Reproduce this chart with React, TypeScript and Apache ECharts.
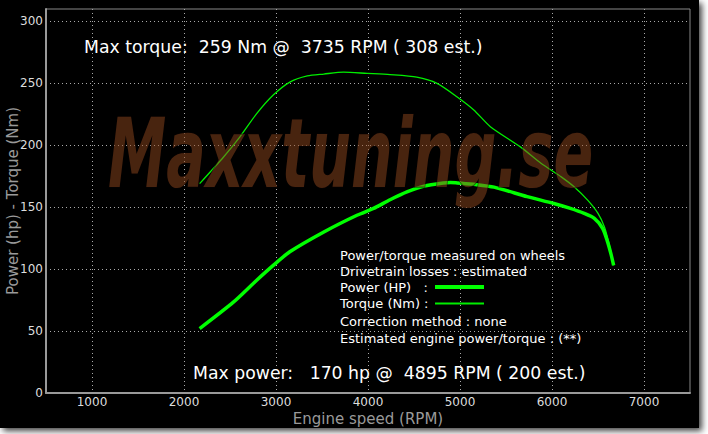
import React, { useEffect, useRef } from "react";
import * as echarts from "echarts";

const xTicks = [1000, 2000, 3000, 4000, 5000, 6000, 7000];
const yTicks = [0, 50, 100, 150, 200, 250, 300];

const powerRpm = [2170, 2540, 2790, 2970, 3150, 3520, 3880, 4060, 4240, 4430, 4610, 4820, 4895, 4970, 5170, 5370, 5730, 6020, 6200, 6350, 6460, 6550, 6600, 6640, 6670];
const powerHp = [52, 73.5, 91, 103, 114, 130, 143.5, 149, 156, 162.5, 167, 169.6, 170, 169.6, 168.3, 166.2, 158.5, 153, 149, 145, 141, 133, 123, 112.5, 103];

const torqueRpm = [2170, 2430, 2610, 2790, 2970, 3150, 3340, 3520, 3735, 3990, 4240, 4530, 4750, 4970, 5150, 5330, 5660, 5880, 6100, 6240, 6390, 6500, 6570, 6620, 6670];
const torqueNm = [169, 190.5, 207, 225.5, 240.5, 251, 256, 257.5, 259, 258, 257, 255, 250, 239, 228.5, 215, 198.5, 185.5, 174.5, 166.5, 155.5, 145, 134, 120.5, 103];

const maxTorqueText = "Max torque:  259 Nm @  3735 RPM ( 308 est.)";
const maxPowerText = "Max power:   170 hp @  4895 RPM ( 200 est.)";
const infoLines = [
  "Power/torque measured on wheels",
  "Drivetrain losses : estimated",
  "Power (HP)   :",
  "Torque (Nm) :",
  "Correction method : none",
  "Estimated engine power/torque : (**)",
];
const watermark = "Maxxtuning.se";

export default function App() {
  const ref = useRef<HTMLDivElement>(null);
  useEffect(() => {
    if (!ref.current) return;
    const chart = echarts.init(ref.current, null, { renderer: "svg" });
    const font = "DejaVu Sans";
    const infoY = [255, 271, 287, 303, 321, 338];
    const graphic: any[] = [
      {
        type: "rect",
        z: -10,
        shape: { x: 0, y: 0, width: 699, height: 428 },
        style: { fill: "#000", shadowBlur: 6, shadowOffsetX: 3, shadowOffsetY: 3, shadowColor: "rgba(0,0,0,0.75)" },
        silent: true,
      },
      {
        type: "text",
        z: 50,
        x: 84,
        y: 47,
        style: { text: maxTorqueText, fill: "#fff", fontSize: 17.3, fontFamily: font, verticalAlign: "middle" },
      },
      {
        type: "text",
        z: 50,
        x: 193,
        y: 373,
        style: { text: maxPowerText, fill: "#fff", fontSize: 17.3, fontFamily: font, verticalAlign: "middle" },
      },
      ...infoLines.map((t, i) => ({
        type: "text",
        z: 50,
        x: 340,
        y: infoY[i],
        style: { text: t, fill: "#fff", fontSize: 13, fontFamily: font, verticalAlign: "middle" },
      })),
      {
        type: "line",
        z: 50,
        shape: { x1: 435, y1: 287, x2: 484, y2: 287 },
        style: { stroke: "#00ff00", lineWidth: 4 },
      },
      {
        type: "line",
        z: 50,
        shape: { x1: 435, y1: 303.5, x2: 484, y2: 303.5 },
        style: { stroke: "#00ee00", lineWidth: 2 },
      },
      {
        type: "text",
        z: 40,
        x: 108,
        y: 154,
        scaleX: 0.61,
        style: {
          text: watermark,
          fontSize: 96,
          fontStyle: "italic",
          fontWeight: "bold",
          fontFamily: font,
          verticalAlign: "middle",
          fill: "rgba(150,76,32,0.48)",
          stroke: "rgba(10,3,3,0.55)",
          lineWidth: 1.5,
        },
        silent: true,
      },
    ];

    chart.setOption({
      animation: false,
      backgroundColor: "#fff",
      grid: {
        left: 46,
        top: 9,
        right: 18,
        bottom: 41,
        containLabel: false,
        outerBoundsMode: "none",
        show: true,
        borderColor: "#888",
        borderWidth: 1,
        backgroundColor: "transparent",
      },
      xAxis: {
        type: "value",
        min: 500,
        max: 7500,
        name: "Engine speed (RPM)",
        nameLocation: "middle",
        nameGap: 18,
        nameMoveOverlap: false,
        nameTextStyle: { color: "#9a9a9a", fontSize: 15, fontFamily: font },
        axisLine: { show: true, onZero: false, lineStyle: { color: "#999", width: 2 } },
        axisTick: { show: false, customValues: xTicks },
        axisLabel: {
          customValues: xTicks,
          color: "#ddd",
          fontSize: 12,
          fontFamily: font,
          margin: 3,
          formatter: (v: number) => String(v),
        },
        splitLine: { show: true, lineStyle: { color: "#aaa", type: [1, 3], width: 1 } },
      },
      yAxis: {
        type: "value",
        min: 0,
        max: 310,
        name: "Power (hp) - Torque (Nm)",
        nameLocation: "middle",
        nameGap: 26,
        nameMoveOverlap: false,
        nameTextStyle: { color: "#9a9a9a", fontSize: 15, fontFamily: font },
        axisLine: { show: true, onZero: false, lineStyle: { color: "#999", width: 2 } },
        axisTick: { show: false, customValues: yTicks },
        axisLabel: { customValues: yTicks, color: "#ddd", fontSize: 12, fontFamily: font, margin: 3 },
        splitLine: { show: true, lineStyle: { color: "#aaa", type: [1, 3], width: 1 } },
      },
      series: [
        {
          type: "line",
          name: "Torque",
          data: torqueRpm.map((r, i) => [r, torqueNm[i]]),
          smooth: 0.25,
          symbol: "none",
          lineStyle: { color: "#00ee00", width: 1.3 },
          z: 3,
        },
        {
          type: "line",
          name: "Power",
          data: powerRpm.map((r, i) => [r, powerHp[i]]),
          smooth: 0.25,
          symbol: "none",
          lineStyle: { color: "#00ff00", width: 3.5 },
          z: 4,
        },
      ],
      graphic,
    });
    return () => chart.dispose();
  }, []);
  return (
    <div style={{ position: "fixed", left: 0, top: 0, width: 708, height: 434, background: "#fff" }}>
      <div ref={ref} style={{ width: 708, height: 434 }} />
    </div>
  );
}
